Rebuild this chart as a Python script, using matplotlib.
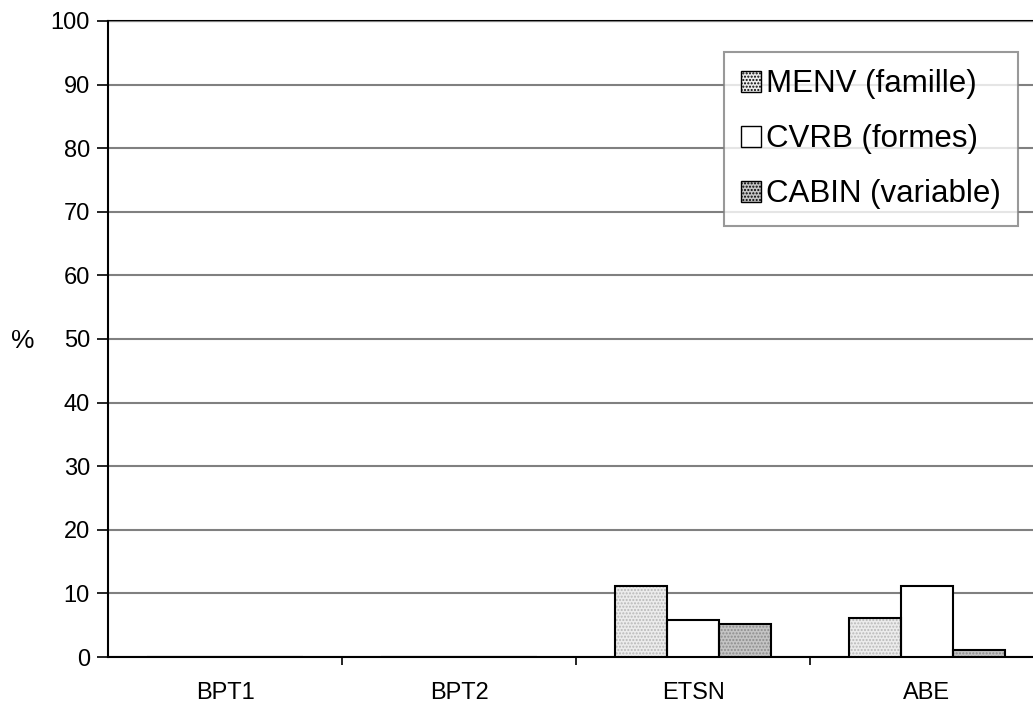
import matplotlib.pyplot as plt
import numpy as np

plt.rcParams['font.family'] = ['Liberation Sans', 'DejaVu Sans']

categories = ['BPT1', 'BPT2', 'ETSN', 'ABE']
menv = [0, 0, 11.2, 6.1]
cvrb = [0, 0, 5.8, 11.2]
cabin = [0, 0, 5.2, 1.1]
series_names = ['MENV (famille)', 'CVRB (formes)', 'CABIN (variable)']

fig = plt.figure(figsize=(10.33, 7.06), dpi=100)
ax = fig.add_axes([108 / 1033, 49 / 706, 936 / 1033, 636 / 706])

x = np.arange(len(categories))
w = 0.222
# fill colour, dot colour for each series
styles = [('#ececec', '#b8b8b8'), ('white', 'white'), ('#c4c4c4', '#8c8c8c')]
handles = []
for i, (vals, (fc, hc)) in enumerate(zip([menv, cvrb, cabin], styles)):
    pos = x + (i - 1) * w
    ax.bar(pos, vals, w, facecolor=fc, edgecolor=hc, hatch='.....' if fc != 'white' else None,
           linewidth=0, zorder=3)
    ax.bar(pos, vals, w, fill=False, edgecolor='black', linewidth=1.5, zorder=4)
    h = plt.Rectangle((0, 0), 1, 1, facecolor=fc, edgecolor='black', linewidth=1.0,
                      hatch='.....' if fc != 'white' else None)
    handles.append(h)

ax.set_xlim(-0.5, 3.5)
ax.set_ylim(0, 100)
ax.set_yticks(range(0, 101, 10))
ax.set_xticks(x)
ax.set_xticklabels(categories)
ax.set_xticks(x[:-1] + 0.5, minor=True)
ax.tick_params(axis='x', which='major', length=0, labelsize=17, pad=18)
ax.tick_params(axis='x', which='minor', length=6, width=1.2, direction='out')
ax.tick_params(axis='y', length=8, width=1.2, labelsize=17, pad=5)

ax.grid(axis='y', color='#808080', linewidth=1.5, zorder=0)
ax.axhline(100, color='black', linewidth=1.5, zorder=1, clip_on=False)
for s in ['top', 'right']:
    ax.spines[s].set_visible(False)
ax.spines['left'].set_linewidth(1.5)
ax.spines['bottom'].set_linewidth(1.5)

ax.set_ylabel('%', fontsize=19, rotation=0, va='center', ha='center')
ax.yaxis.set_label_coords((23 - 108) / 936, 0.497)

leg = ax.legend(handles, series_names, loc='upper right',
                bbox_to_anchor=(1018 / 1033, 654 / 706), bbox_transform=fig.transFigure,
                fontsize=22.5, frameon=True, fancybox=False, borderaxespad=0,
                handlelength=0.65, handleheight=0.65, handletextpad=0.15,
                labelspacing=0.8, borderpad=0.55)
leg.get_frame().set_edgecolor('#808080')
leg.get_frame().set_linewidth(1.5)

fig.savefig('out.png', dpi=100)
